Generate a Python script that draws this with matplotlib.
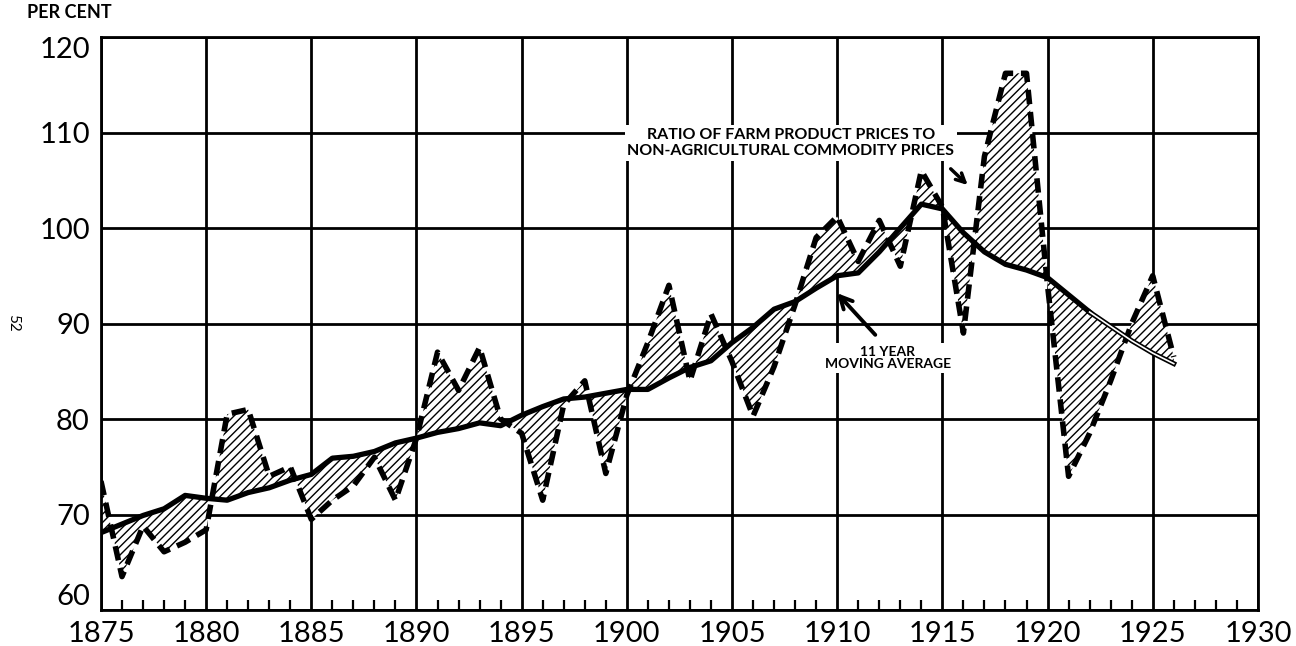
import numpy as np
import matplotlib.pyplot as plt
from matplotlib.ticker import MultipleLocator

plt.rcParams['font.family'] = ['Lato', 'DejaVu Sans']
plt.rcParams['hatch.linewidth'] = 1.0

years = list(range(1875, 1927))

# ratio of farm product prices to non-agricultural commodity prices (per cent)
ratio = [73.5, 63.5, 68.8, 66.1, 67.1, 68.4, 80.5, 81.0, 74.0, 75.0,
         69.5, 71.5, 73.0, 76.0, 71.5, 78.0, 87.0, 83.0, 87.5, 80.0,
         78.5, 71.5, 81.5, 84.0, 74.3, 82.5, 88.0, 94.0, 84.0, 91.0,
         86.0, 80.3, 85.5, 92.0, 99.0, 101.2, 96.5, 100.8, 96.0, 106.0,
         102.2, 89.0, 107.5, 116.2, 116.2, 94.0, 74.0, 78.5, 84.0, 90.0,
         95.0, 86.5]

# 11 year moving average
moving_avg = [68.1, 69.0, 69.9, 70.6, 72.0, 71.7, 71.5, 72.3, 72.8, 73.6,
              74.2, 75.9, 76.1, 76.6, 77.5, 78.0, 78.6, 79.0, 79.6, 79.3,
              80.4, 81.3, 82.1, 82.3, 82.7, 83.1, 83.1, 84.3, 85.4, 86.1,
              88.0, 89.6, 91.5, 92.3, 93.7, 95.0, 95.3, 97.5, 100.0, 102.5,
              102.0, 99.5, 97.5, 96.2, 95.6, 94.8, 93.0, 91.2, 89.7, 88.2,
              86.9, 85.8]

x_labels = list(range(1875, 1931, 5))
y_labels = list(range(60, 121, 10))

yrs = np.array(years)
rat = np.array(ratio)
avg = np.array(moving_avg)

fig = plt.figure(figsize=(12.96, 6.46), dpi=100)
ax = fig.add_axes([0.0779, 0.0557, 0.8927, 0.887])
ax.set_xlim(1875, 1930)
ax.set_ylim(60, 120)

# grid
for xv in x_labels:
    ax.axvline(xv, color='black', lw=2, zorder=1)
for yv in y_labels:
    ax.axhline(yv, color='black', lw=2, zorder=1)

# hatched area between the two series
ax.fill_between(yrs, rat, avg, facecolor='white', edgecolor='black',
                hatch='////', linewidth=0, zorder=2)

# ratio, heavy dashes
ax.plot(yrs, rat, color='black', lw=4, linestyle=(0, (2.6, 1.4)),
        dash_capstyle='butt', zorder=4)

# moving average, solid then hollow for the last years
cut = years.index(1922)
ax.plot(yrs[:cut + 1], avg[:cut + 1], color='black', lw=3.8,
        solid_joinstyle='round', zorder=5)
ax.plot(yrs[cut:], avg[cut:], color='black', lw=3.6, zorder=5)
ax.plot(yrs[cut:], avg[cut:], color='white', lw=1.2, zorder=6)

ax.set_xticks(x_labels)
ax.set_yticks(y_labels)
ax.xaxis.set_minor_locator(MultipleLocator(1))
ax.tick_params(axis='both', which='major', length=0, labelsize=21, pad=8)
ax.tick_params(axis='x', which='minor', direction='in', length=7, width=1.6,
               top=False)
ax.tick_params(axis='y', which='minor', length=0)
ylabs = ax.get_yticklabels()
ylabs[0].set_va('bottom')
ylabs[-1].set_va('top')
for sp in ax.spines.values():
    sp.set_linewidth(2)

fig.text(27 / 1296, 1 - 13 / 646, 'PER CENT', ha='left', va='center',
         fontsize=13, fontweight='bold')
fig.text(0.010, 0.50, '52', rotation=-90, fontsize=11, ha='center', va='center')

ax.text(1907.8, 108.9, 'RATIO OF FARM PRODUCT PRICES TO\nNON-AGRICULTURAL COMMODITY PRICES',
        ha='center', va='center', fontsize=11.5, fontweight='bold',
        linespacing=1.2, zorder=7,
        bbox=dict(facecolor='white', edgecolor='none', pad=2))
ax.annotate('', xy=(1916.3, 104.3), xytext=(1915.3, 106.4),
            arrowprops=dict(arrowstyle='->', lw=2.5, color='black',
                            mutation_scale=16), zorder=7)

ax.text(1912.4, 86.4, '11 YEAR\nMOVING AVERAGE', ha='center', va='center',
        fontsize=10, fontweight='bold', linespacing=1.0, zorder=7,
        bbox=dict(facecolor='white', edgecolor='none', pad=2))
ax.annotate('', xy=(1909.9, 93.4), xytext=(1911.9, 88.6),
            arrowprops=dict(arrowstyle='->', lw=2.8, color='black',
                            mutation_scale=22), zorder=7)

fig.savefig('out.png', dpi=100)
